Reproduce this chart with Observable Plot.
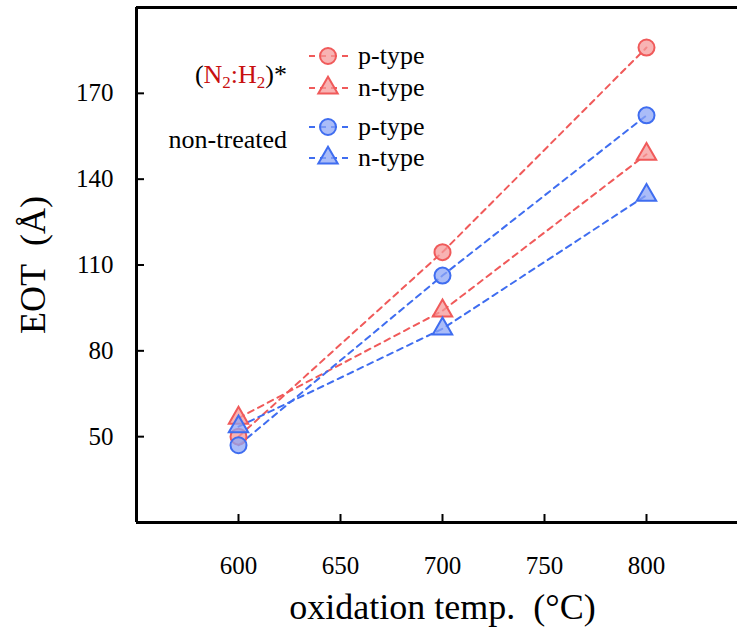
<!DOCTYPE html>
<html><head><meta charset="utf-8">
<script src="https://cdn.jsdelivr.net/npm/d3@7"></script>
<script src="https://cdn.jsdelivr.net/npm/@observablehq/plot@0.6"></script>
<style>html,body{margin:0;padding:0;overflow:hidden;background:#fff}</style>
</head><body><div id="chart"></div>
<script>
const temps = [600, 700, 800];
const treatedP = [50, 114.5, 186];
const treatedN = [56.5, 94, 148.7];
const untreatedP = [47, 106.3, 162.3];
const untreatedN = [53.5, 87.7, 134.4];
const xTicks = [600, 650, 700, 750, 800];
const yTicks = [50, 80, 110, 140, 170];
const seriesNames = ["treated p-type", "treated n-type", "non-treated p-type", "non-treated n-type"];
const legendLabels = ["p-type", "n-type", "p-type", "n-type"];

const RED = "#f05a5a", RED_F = "#f69a9a", BLUE = "#3f6df0", BLUE_F = "#8ea6f5";
const styles = [
  {stroke: RED, fill: RED_F, symbol: "circle", r: 8},
  {stroke: RED, fill: RED_F, symbol: "triangle", r: 7.2},
  {stroke: BLUE, fill: BLUE_F, symbol: "circle", r: 8},
  {stroke: BLUE, fill: BLUE_F, symbol: "triangle", r: 7.2}
];
const allVals = [treatedP, treatedN, untreatedP, untreatedN];
const series = allVals.map((vals, i) => temps.map((t, j) => ({x: t, y: vals[j], s: seriesNames[i]})));

const marks = [];
series.forEach((rows, i) => {
  marks.push(Plot.line(rows, {x: "x", y: "y", stroke: styles[i].stroke, strokeWidth: 2, strokeDasharray: "6,5"}));
});
series.forEach((rows, i) => {
  marks.push(Plot.dot(rows, {x: "x", y: "y", symbol: styles[i].symbol, r: styles[i].r, fill: styles[i].fill, fillOpacity: 0.75, stroke: styles[i].stroke, strokeWidth: 2}));
});

const FONT = "'Liberation Serif', 'Times New Roman', serif";
const plot = Plot.plot({
  width: 748, height: 631,
  marginLeft: 136, marginRight: 0, marginTop: 7, marginBottom: 109,
  style: {fontFamily: FONT, fontSize: "25px", color: "#000", background: "#fff", maxWidth: "none"},
  x: {domain: [550, 850], axis: null},
  y: {domain: [20, 200], axis: null},
  marks: [
    ...marks,
    Plot.axisX({ticks: xTicks, tickSize: -8, tickFormat: () => "", strokeWidth: 2, label: null}),
    Plot.axisY({ticks: yTicks, tickSize: -8, tickFormat: () => "", strokeWidth: 2, label: null}),
    Plot.text(xTicks, {x: d => d, text: d => String(d), frameAnchor: "bottom", dy: 43, lineAnchor: "middle", fontSize: 25, fill: "#000"}),
    Plot.text(yTicks, {y: d => d, text: d => String(d), frameAnchor: "left", dx: -23, textAnchor: "end", lineAnchor: "middle", fontSize: 25, fill: "#000"}),
    Plot.ruleX([550], {strokeWidth: 3}),
    Plot.ruleY([20, 200], {strokeWidth: 3}),
    Plot.text(["oxidation temp.\u00a0\u00a0(°C)"], {frameAnchor: "bottom", dy: 85, lineAnchor: "middle", textAnchor: "middle", fontSize: 36}),
    Plot.text(["EOT\u00a0\u00a0(Å)"], {frameAnchor: "left", dx: -103, rotate: -90, textAnchor: "middle", lineAnchor: "middle", fontSize: 36})
  ]
});
document.getElementById("chart").appendChild(plot);

// Legend (layout only)
const svg = d3.select(plot);
const g = svg.append("g").attr("font-family", FONT).attr("font-size", 26).attr("text-anchor", "start");
const rowsY = [56, 88, 127, 158];
rowsY.forEach((y, i) => {
  const st = styles[i];
  g.append("line").attr("x1", 309).attr("x2", 349).attr("y1", y).attr("y2", y)
    .attr("stroke", st.stroke).attr("stroke-width", 2).attr("stroke-dasharray", "6,5");
  g.append("path").attr("transform", `translate(328,${y})`)
    .attr("d", d3.symbol(st.symbol === "circle" ? d3.symbolCircle : d3.symbolTriangle, Math.PI * st.r * st.r)())
    .attr("fill", st.fill).attr("fill-opacity", 0.75).attr("stroke", st.stroke).attr("stroke-width", 2);
  g.append("text").attr("x", 358).attr("y", y).attr("dy", "0.32em").text(legendLabels[i]);
});
const t1 = g.append("text").attr("x", 287).attr("y", 75).attr("dy", "0.32em").attr("text-anchor", "end");
t1.append("tspan").text("(");
t1.append("tspan").attr("fill", "#c81010").text("N");
t1.append("tspan").attr("fill", "#c81010").attr("font-size", 17).attr("dy", 5).text("2");
t1.append("tspan").attr("fill", "#c81010").attr("dy", -5).text(":H");
t1.append("tspan").attr("fill", "#c81010").attr("font-size", 17).attr("dy", 5).text("2");
t1.append("tspan").attr("dy", -5).text(")*");
g.append("text").attr("x", 287).attr("y", 140).attr("dy", "0.32em").attr("text-anchor", "end").text("non-treated");
</script></body></html>
